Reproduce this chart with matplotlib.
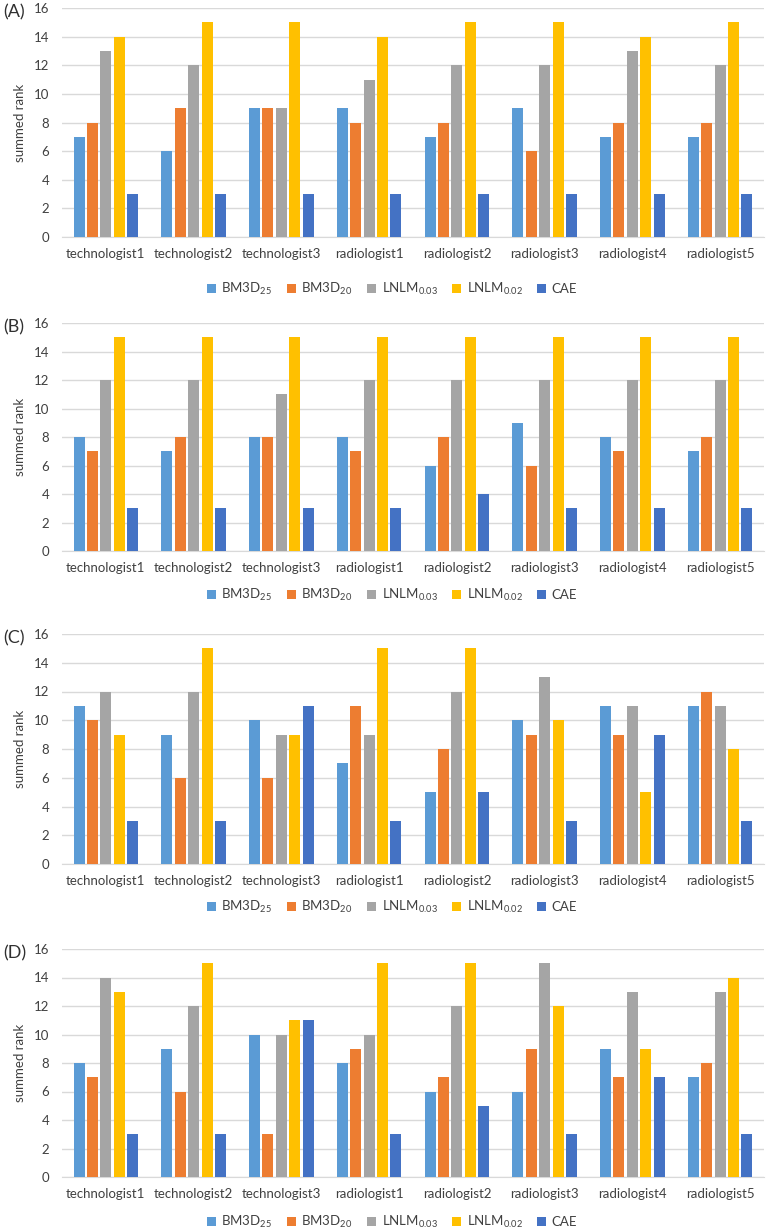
import matplotlib
matplotlib.use("Agg")
import matplotlib.pyplot as plt
import numpy as np

plt.rcParams['font.family'] = ['Lato', 'DejaVu Sans']

readers = ["technologist1", "technologist2", "technologist3", "radiologist1",
           "radiologist2", "radiologist3", "radiologist4", "radiologist5"]
methods = [r"BM3D$\mathregular{_{25}}$", r"BM3D$\mathregular{_{20}}$",
           r"LNLM$\mathregular{_{0.03}}$", r"LNLM$\mathregular{_{0.02}}$", "CAE"]
colors = ["#5B9BD5", "#ED7D31", "#A5A5A5", "#FFC000", "#4472C4"]
panels = ["(A)", "(B)", "(C)", "(D)"]

# summed rank per panel, one list per method
a_bm3d25 = [7, 6, 9, 9, 7, 9, 7, 7]
a_bm3d20 = [8, 9, 9, 8, 8, 6, 8, 8]
a_lnlm003 = [13, 12, 9, 11, 12, 12, 13, 12]
a_lnlm002 = [14, 15, 15, 14, 15, 15, 14, 15]
a_cae = [3, 3, 3, 3, 3, 3, 3, 3]

b_bm3d25 = [8, 7, 8, 8, 6, 9, 8, 7]
b_bm3d20 = [7, 8, 8, 7, 8, 6, 7, 8]
b_lnlm003 = [12, 12, 11, 12, 12, 12, 12, 12]
b_lnlm002 = [15, 15, 15, 15, 15, 15, 15, 15]
b_cae = [3, 3, 3, 3, 4, 3, 3, 3]

c_bm3d25 = [11, 9, 10, 7, 5, 10, 11, 11]
c_bm3d20 = [10, 6, 6, 11, 8, 9, 9, 12]
c_lnlm003 = [12, 12, 9, 9, 12, 13, 11, 11]
c_lnlm002 = [9, 15, 9, 15, 15, 10, 5, 8]
c_cae = [3, 3, 11, 3, 5, 3, 9, 3]

d_bm3d25 = [8, 9, 10, 8, 6, 6, 9, 7]
d_bm3d20 = [7, 6, 3, 9, 7, 9, 7, 8]
d_lnlm003 = [14, 12, 10, 10, 12, 15, 13, 13]
d_lnlm002 = [13, 15, 11, 15, 15, 12, 9, 14]
d_cae = [3, 3, 11, 3, 5, 3, 7, 3]

data = [
    [a_bm3d25, a_bm3d20, a_lnlm003, a_lnlm002, a_cae],
    [b_bm3d25, b_bm3d20, b_lnlm003, b_lnlm002, b_cae],
    [c_bm3d25, c_bm3d20, c_lnlm003, c_lnlm002, c_cae],
    [d_bm3d25, d_bm3d20, d_lnlm003, d_lnlm002, d_cae],
]

W, H = 767, 1231
fig = plt.figure(figsize=(W / 100, H / 100), dpi=100)

# pixel rows: top (value 16), bottom (value 0), legend centre
tops = [8, 323, 634, 949]
bottoms = [237, 551, 864, 1177]
legend_y = [289, 595, 907, 1222]
left, right = 62, 764

x = np.arange(len(readers))
pitch = 0.153
width = 0.125

for i in range(4):
    ax = fig.add_axes([left / W, 1 - bottoms[i] / H, (right - left) / W,
                       (bottoms[i] - tops[i]) / H])
    for j in range(5):
        ax.bar(x + (j - 2) * pitch, data[i][j], width, color=colors[j],
               label=methods[j], zorder=3)
    ax.set_xlim(-0.5, 7.5)
    ax.set_ylim(0, 16)
    ax.set_yticks(range(0, 17, 2))
    ax.set_xticks(x)
    ax.set_xticklabels(readers)
    ax.tick_params(axis='both', length=0, labelsize=9.5, colors="#404040")
    ax.tick_params(axis='x', pad=8)
    ax.tick_params(axis='y', pad=9)
    ax.grid(axis='y', color="#D9D9D9", linewidth=1, zorder=0)
    for s in ["top", "right", "left"]:
        ax.spines[s].set_visible(False)
    ax.spines["bottom"].set_color("#D9D9D9")
    ax.set_ylabel("summed rank", fontsize=9.5, color="#404040", labelpad=6)
    fig.text(3 / W, 1 - (tops[i] + 4) / H, panels[i], fontsize=13,
             va='center', ha='left', color="#303030")
    fig.legend(*ax.get_legend_handles_labels(), loc='center',
               bbox_to_anchor=(392 / W, 1 - legend_y[i] / H), ncol=5,
               frameon=False, fontsize=9.5, handlelength=0.7,
               handleheight=0.7, handletextpad=0.4, columnspacing=1.1,
               labelcolor="#404040")

fig.savefig("out.png", dpi=100)
